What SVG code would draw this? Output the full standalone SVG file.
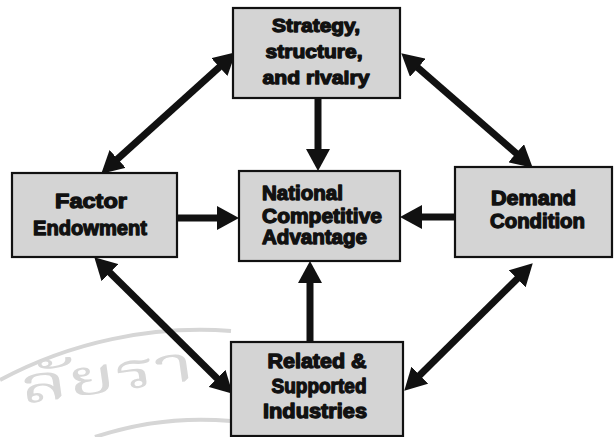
<svg xmlns="http://www.w3.org/2000/svg" width="614" height="437" viewBox="0 0 614 437">
  <defs>
    <marker id="head" viewBox="0 0 22 24" refX="7" refY="12" markerWidth="22" markerHeight="24" markerUnits="userSpaceOnUse" orient="auto-start-reverse">
      <path d="M0,0 L22,12 L0,24 z" fill="#111"/>
    </marker>
  </defs>
  <style>
    .box { fill: #d4d4d4; stroke: #111; stroke-width: 2.2; }
    .lbl { font-family: "Liberation Sans", Arial, sans-serif; font-weight: bold; fill: #111; stroke: #111; stroke-width: 1.3; stroke-linejoin: round; }
    .c { text-anchor: middle; }
    .link { stroke: #111; stroke-width: 7; fill: none; }
    .one { marker-end: url(#head); }
    .two { marker-start: url(#head); marker-end: url(#head); }
    .seal { fill: none; stroke: #d6d6d6; stroke-width: 4; }
    .sealtxt { font-family: "Noto Serif Thai", "Noto Sans Thai", "DejaVu Sans", serif; font-size: 50px; fill: #d8d8d8; }
  </style>

  <rect width="614" height="437" fill="#ffffff"/>

  <!-- faint university seal in the lower-left corner -->
  <g id="seal">
    <path class="seal" d="M0,380 A425,425 0 0 1 231,331"/>
    <path class="seal" d="M95,437 A335,335 0 0 1 231,421"/>
    <text class="sealtxt" x="22" y="404" transform="rotate(-8 22 404)" textLength="176" lengthAdjust="spacingAndGlyphs">ลัยรา</text>
  </g>

  <g id="connectors">
    <line class="link two" x1="224.6" y1="62.4" x2="112.4" y2="163.6"/>
    <line class="link two" x1="412.6" y1="63.2" x2="521.4" y2="157.8"/>
    <line class="link two" x1="105" y1="267.8" x2="222" y2="383.2"/>
    <line class="link two" x1="522.1" y1="273.9" x2="414.9" y2="380.1"/>
    <line class="link one" x1="318" y1="98" x2="318" y2="156"/>
    <line class="link one" x1="177" y1="218" x2="224" y2="218"/>
    <line class="link one" x1="455" y1="217" x2="415" y2="217"/>
    <line class="link one" x1="310" y1="342" x2="310" y2="276"/>
  </g>

  <g id="strategy">
    <rect class="box" x="233" y="8" width="167" height="90"/>
    <text class="lbl c" x="316" y="32" font-size="19" textLength="88" lengthAdjust="spacingAndGlyphs">Strategy,</text>
    <text class="lbl c" x="314" y="58" font-size="19" textLength="97" lengthAdjust="spacingAndGlyphs">structure,</text>
    <text class="lbl c" x="316" y="84" font-size="19" textLength="107" lengthAdjust="spacingAndGlyphs">and rivalry</text>
  </g>

  <g id="factor">
    <rect class="box" x="12" y="173" width="165" height="84"/>
    <text class="lbl c" x="91" y="208" font-size="21" textLength="72" lengthAdjust="spacingAndGlyphs">Factor</text>
    <text class="lbl c" x="90" y="235" font-size="21" textLength="114" lengthAdjust="spacingAndGlyphs">Endowment</text>
  </g>

  <g id="national">
    <rect class="box" x="239" y="171" width="161" height="90"/>
    <text class="lbl" x="262" y="200" font-size="20" textLength="81" lengthAdjust="spacingAndGlyphs">National</text>
    <text class="lbl" x="262" y="223" font-size="20" textLength="120" lengthAdjust="spacingAndGlyphs">Competitive</text>
    <text class="lbl" x="262" y="244" font-size="20" textLength="105" lengthAdjust="spacingAndGlyphs">Advantage</text>
  </g>

  <g id="demand">
    <rect class="box" x="455" y="167" width="157" height="90"/>
    <text class="lbl" x="491" y="205" font-size="20" textLength="85" lengthAdjust="spacingAndGlyphs">Demand</text>
    <text class="lbl" x="490" y="228" font-size="20" textLength="95" lengthAdjust="spacingAndGlyphs">Condition</text>
  </g>

  <g id="related">
    <rect class="box" x="231" y="342" width="172" height="94"/>
    <text class="lbl c" x="317" y="368" font-size="20" textLength="99" lengthAdjust="spacingAndGlyphs">Related &amp;</text>
    <text class="lbl c" x="319" y="393" font-size="20" textLength="95" lengthAdjust="spacingAndGlyphs">Supported</text>
    <text class="lbl c" x="315" y="418" font-size="20" textLength="104" lengthAdjust="spacingAndGlyphs">Industries</text>
  </g>
</svg>
